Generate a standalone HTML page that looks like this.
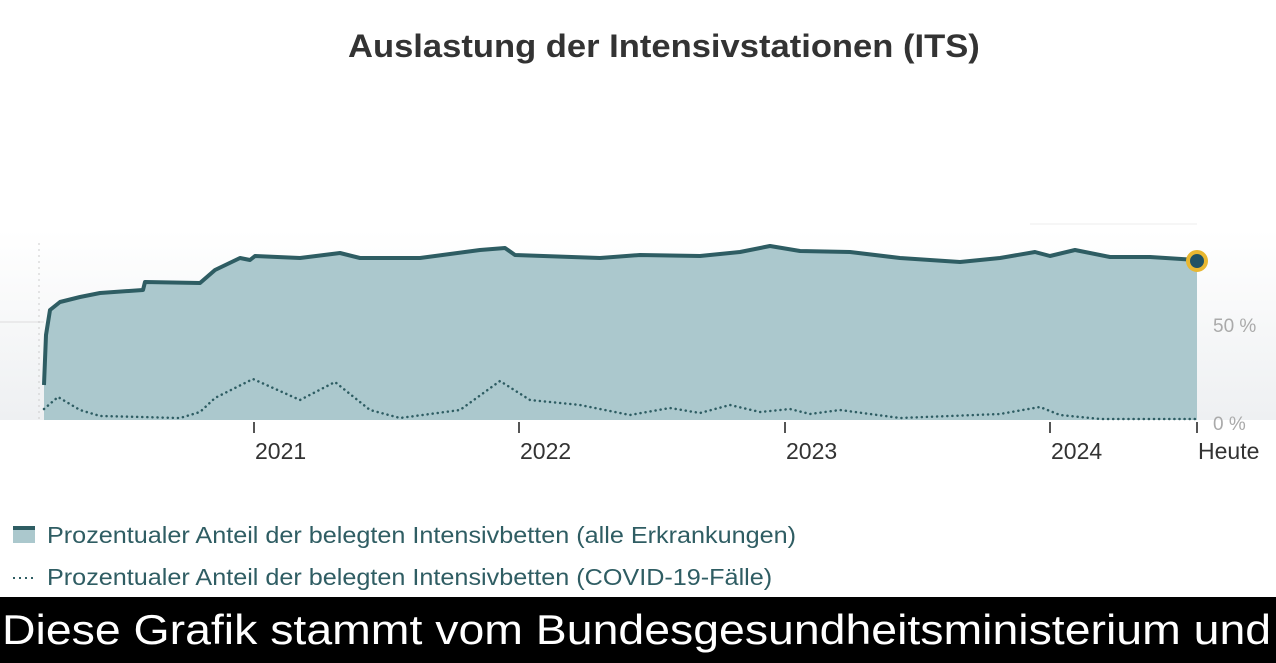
<!DOCTYPE html>
<html><head><meta charset="utf-8"><style>
body{margin:0;width:1276px;height:663px;overflow:hidden;background:#fff;font-family:"Liberation Sans",sans-serif;position:relative}
.t{position:absolute;top:28px;left:348px;font-size:32px;font-weight:bold;color:#333;white-space:nowrap;transform-origin:0 0;transform:scaleX(1.08)}
.lg{position:absolute;left:47px;font-size:23px;color:#2f5d63;white-space:nowrap;transform-origin:0 0;transform:scaleX(1.095)}
.sub{position:absolute;left:0;top:597px;width:1276px;height:66px;background:#000;overflow:hidden}
.sub span{position:absolute;left:2px;top:0;color:#fff;font-size:42px;line-height:66px;white-space:nowrap;transform-origin:0 0;transform:scaleX(1.105)}
</style></head><body>
<div class="t">Auslastung der Intensivstationen (ITS)</div>
<svg width="1276" height="600" style="position:absolute;left:0;top:0">
<defs><linearGradient id="g" x1="0" y1="0" x2="0" y2="1"><stop offset="0" stop-color="#fff"/><stop offset="1" stop-color="#eef0f2"/></linearGradient></defs>
<rect x="0" y="230" width="1276" height="190" fill="url(#g)"/>
<line x1="0" y1="322" x2="44" y2="322" stroke="#ddd"/>
<line x1="1030" y1="224" x2="1197" y2="224" stroke="#eee"/>
<line x1="39" y1="243" x2="39" y2="420" stroke="#ccc" stroke-dasharray="2,4"/>
<polygon fill="#abc8cd" points="44,420 44,385 46,335 50,310 60,302 80,297 100,293 143,290 145,282 200,283 215,270 240,258 250,260 255,256 300,258 340,253 360,258 420,258 480,250 505,248 515,255 600,258 640,255 700,256 740,252 770,246 800,251 850,252 900,258 960,262 1000,258 1035,252 1050,256 1075,250 1110,257 1150,257 1197,260 1197,420"/>
<polyline fill="none" stroke="#2e5d63" stroke-width="4" stroke-linejoin="round" points="44,385 46,335 50,310 60,302 80,297 100,293 143,290 145,282 200,283 215,270 240,258 250,260 255,256 300,258 340,253 360,258 420,258 480,250 505,248 515,255 600,258 640,255 700,256 740,252 770,246 800,251 850,252 900,258 960,262 1000,258 1035,252 1050,256 1075,250 1110,257 1150,257 1197,260"/>
<polyline fill="none" stroke="#2e5d63" stroke-width="2.5" stroke-dasharray="0.1,5" stroke-linecap="round" points="44,409 58,397 80,410 100,416 180,418 200,412 215,398 253,379 300,400 335,382 370,410 400,418 460,410 500,381 530,400 580,405 630,415 670,408 700,413 730,405 760,412 790,409 810,414 840,410 900,418 1000,414 1040,407 1060,415 1100,419 1197,419"/>
<circle cx="1197" cy="261" r="9" fill="#1f5164" stroke="#e8b731" stroke-width="4"/>
<g stroke="#555" stroke-width="2"><line x1="254" y1="422" x2="254" y2="433"/><line x1="519" y1="422" x2="519" y2="433"/><line x1="785" y1="422" x2="785" y2="433"/><line x1="1050" y1="422" x2="1050" y2="433"/><line x1="1197" y1="422" x2="1197" y2="433"/></g>
<g font-size="23" fill="#333" font-family="Liberation Sans,sans-serif"><text x="255" y="459">2021</text><text x="520" y="459">2022</text><text x="786" y="459">2023</text><text x="1051" y="459">2024</text><text x="1198" y="459">Heute</text></g>
<g font-size="19" fill="#aaa" font-family="Liberation Sans,sans-serif"><text x="1213" y="332">50 %</text><text x="1213" y="430">0 %</text></g>
<rect x="13" y="526" width="22" height="17" fill="#abc8cd"/><rect x="13" y="526" width="22" height="4" fill="#2e5d63"/>
<line x1="13" y1="578" x2="35" y2="578" stroke="#2e5d63" stroke-width="2" stroke-dasharray="2,4"/>
</svg>
<div class="lg" style="top:522px">Prozentualer Anteil der belegten Intensivbetten (alle Erkrankungen)</div>
<div class="lg" style="top:564px">Prozentualer Anteil der belegten Intensivbetten (COVID-19-Fälle)</div>
<div class="sub"><span>Diese Grafik stammt vom Bundesgesundheitsministerium und</span></div>
</body></html>
